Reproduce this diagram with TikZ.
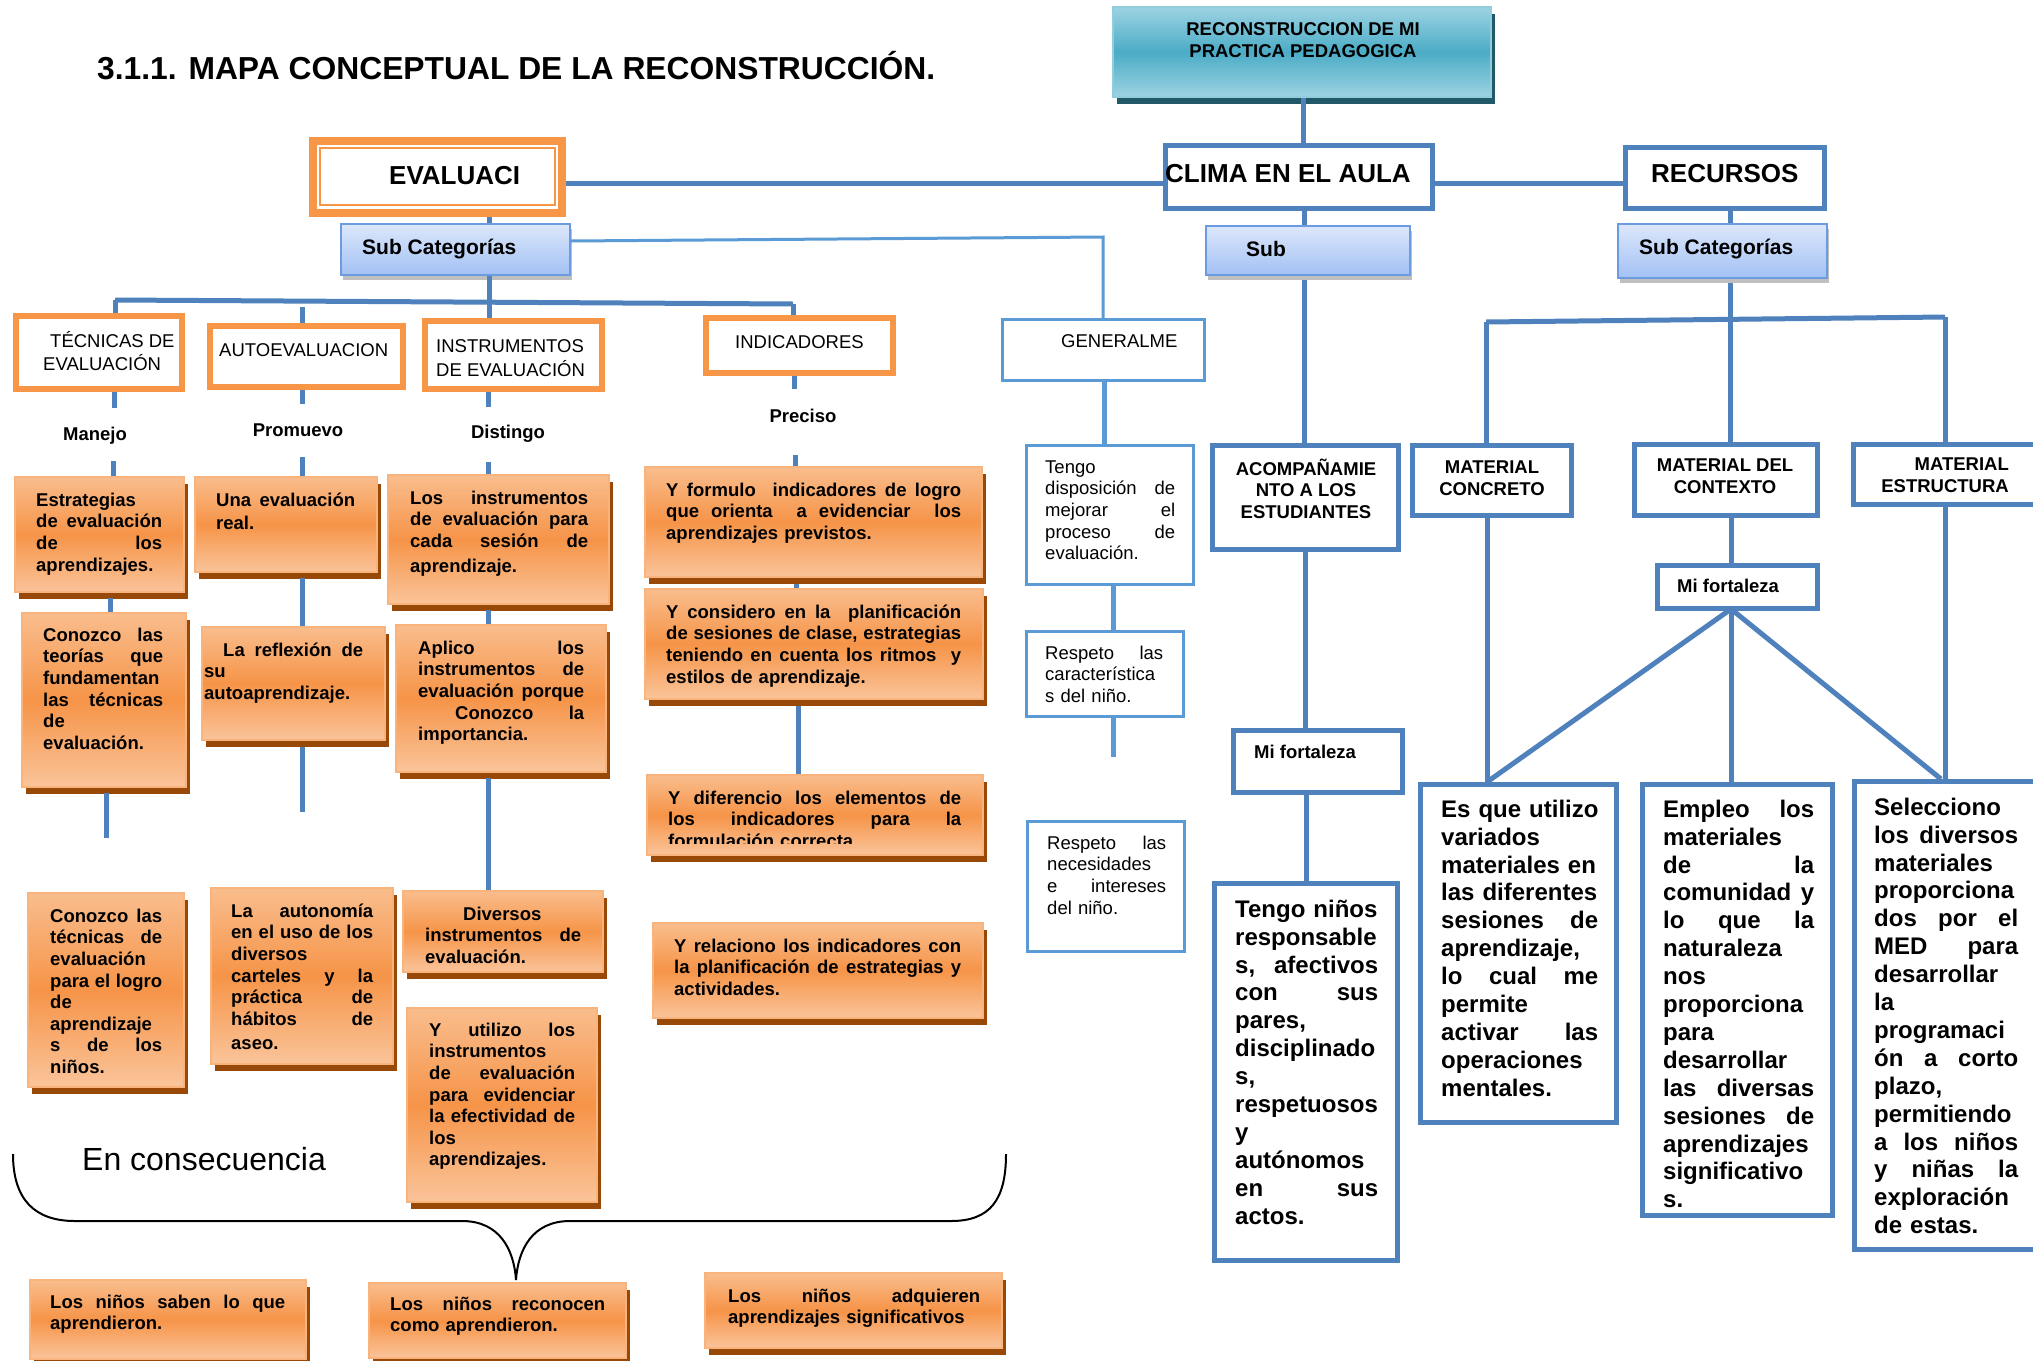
\documentclass[tikz,border=0pt]{standalone}
\usepackage{fontspec}
\setmainfont{Liberation Sans}
\usetikzlibrary{shadows}
\definecolor{cb}{HTML}{4F81BD}
\definecolor{lb}{HTML}{5B9BD5}
\definecolor{og}{HTML}{F79646}
\definecolor{oT}{HTML}{F9BD8D}
\definecolor{oM}{HTML}{F69448}
\definecolor{oB}{HTML}{FAC49A}
\definecolor{oE}{HTML}{F9B47E}
\definecolor{shb}{HTML}{984807}
\definecolor{sT}{HTML}{DCE7FB}
\definecolor{sB}{HTML}{A3C1F4}
\definecolor{sE}{HTML}{6C9BE0}
\definecolor{tT}{HTML}{9DD3E3}
\definecolor{tM}{HTML}{4BACC6}
\definecolor{tE}{HTML}{92CDDC}
\definecolor{tS}{HTML}{215968}
\newcommand\bx[6]{\pgfmathsetmacro\bxw{(#4)-(#2)}\pgfmathsetmacro\bxh{(#5)-(#3)}\node[#6, minimum width=\bxw pt, minimum height=\bxh pt, inner sep=0pt] (#1) at ({((#2)+(#4))/2},{((#3)+(#5))/2}) {};}
\newcommand\tn[6]{\def\jw{#4pt}\pgfmathsetmacro\twd{#4+40}\node[#5, text width=\twd pt, anchor=north west] (#1) at (#2,#3) {\strut #6};}
\newcommand\jus[1]{\leavevmode\hbox to \jw{\spaceskip=\fontdimen2\font plus 1fil\relax\xspaceskip=\fontdimen2\font plus 1fil\relax #1}}
\tikzset{
 conn/.style={draw=cb, line width=5pt},
 lconn/.style={draw=lb, line width=5pt},
 tconn/.style={draw=lb, line width=3pt},
 obox/.style={draw=oE, line width=1.5pt, top color=oT, bottom color=oB, middle color=oM, general shadow={fill=shb, shadow xshift=4pt, shadow yshift=-7pt}},
 ohead/.style={draw=og, line width=6pt, fill=white},
 bbox/.style={draw=cb, line width=5pt, fill=white},
 lbox/.style={draw=lb, line width=3pt, fill=white},
 sbox/.style={draw=sE, line width=2pt, top color=sT, bottom color=sB, general shadow={fill=black, opacity=.25, shadow xshift=2pt, shadow yshift=-5pt}},
 tbox/.style={draw=tE, line width=2pt, top color=tT, bottom color=tT, middle color=tM, general shadow={fill=tS, shadow xshift=4pt, shadow yshift=-7pt}},
 tb/.style={inner sep=0pt, align=left, font=\fontsize{18.5}{21.6}\selectfont\bfseries},
 tr/.style={inner sep=0pt, align=left, font=\fontsize{18.5}{21.6}\selectfont},
 tg/.style={inner sep=0pt, align=left, font=\fontsize{24}{27.9}\selectfont\bfseries},
 tbig/.style={inner sep=0pt, font=\fontsize{26}{30}\selectfont\bfseries},
 tsub/.style={inner sep=0pt, font=\fontsize{21}{25}\selectfont\bfseries},
}
\begin{document}
\begin{tikzpicture}[x=1pt,y=-1pt]
\useasboundingbox (0,0) rectangle (2033,1360);
\fill[white] (0,0) rectangle (2033,1360);

\coordinate (gcorner) at (1103,237);
\coordinate (barL) at (115,300);
\coordinate (barR) at (793,304);
\coordinate (bar2L) at (1486,322);
\coordinate (bar2R) at (1945,317);
\coordinate (fan) at (1731,609);

% ---------- boxes ----------
\bx{top}{1113}{7}{1491}{97}{tbox}
\bx{ev}{313}{141}{562}{213}{draw=og, line width=8pt, fill=white}
\bx{clima}{1165.5}{145.5}{1432.5}{208.5}{bbox}
\bx{recursos}{1625.5}{147.5}{1824.5}{208.5}{bbox}
\bx{evs}{341}{224}{570}{275}{sbox}
\bx{cls}{1206}{226}{1410}{275}{sbox}
\bx{res}{1618}{224}{1827}{278}{sbox}
\bx{gen}{1002.5}{319.5}{1204.5}{380.5}{lbox}
\bx{tec}{16}{316}{182}{389}{ohead}
\bx{auto}{210}{326}{403}{387}{ohead}
\bx{ins}{425}{321}{602}{389}{ohead}
\bx{ind}{706}{318}{893}{373}{ohead}
\bx{a1}{15}{477}{184}{592}{obox}
\bx{a2}{22}{613}{186}{787}{obox}
\bx{a3}{28}{893}{184}{1087}{obox}
\bx{b1}{195}{477}{377}{572}{obox}
\bx{b2}{202}{627}{385}{740}{obox}
\bx{b3}{211}{888}{393}{1064}{obox}
\bx{c1}{388}{475}{609}{604}{obox}
\bx{c2}{396}{625}{606}{772}{obox}
\bx{c3}{403}{891}{603}{972}{obox}
\bx{c4}{407}{1008}{597}{1202}{obox}
\bx{d1}{645}{467}{982}{577}{obox}
\bx{d2}{645}{589}{983}{699}{obox}
\bx{d3}{647}{775}{983}{855}{obox}
\bx{d4}{653}{923}{983}{1018}{obox}
\bx{e1}{30}{1280}{306}{1359}{obox}
\bx{e2}{369}{1283}{626}{1358}{obox}
\bx{e3}{705}{1273}{1002}{1348}{obox}
\bx{g1}{1026.5}{445.5}{1193.5}{584.5}{lbox}
\bx{g2}{1026.5}{631.5}{1183.5}{716.5}{lbox}
\bx{g3}{1027.5}{821.5}{1184.5}{951.5}{lbox}
\bx{acomp}{1212.5}{445.5}{1398.5}{549.5}{bbox}
\bx{mcon}{1412.5}{445.5}{1571.5}{515.5}{bbox}
\bx{mctx}{1634.5}{444.5}{1817.5}{515.5}{bbox}
\bx{mest}{1853.5}{444.5}{2045}{504.5}{bbox}
\bx{mf1}{1233.5}{730.5}{1402.5}{792.5}{bbox}
\bx{mf2}{1657.5}{565.5}{1817.5}{608.5}{bbox}
\bx{r1}{1214.5}{883.5}{1397.5}{1260.5}{bbox}
\bx{r2}{1420.5}{784.5}{1616.5}{1122.5}{bbox}
\bx{r3}{1642.5}{784.5}{1832.5}{1215.5}{bbox}
\bx{r4}{1854.5}{781.5}{2045}{1249.5}{bbox}

% ---------- connectors ----------
\draw[conn] (1303,0 |- top.south) -- (1303,0 |- clima.north);
\draw[conn] (ev.east |- 0,183) -- (clima.west |- 0,183);
\draw[conn] (clima.east |- 0,183) -- (recursos.west |- 0,183);
\draw[conn] (489,0 |- ev.south) -- (489,0 |- evs.north);
\draw[tconn] (evs.east |- 0,241) -- (gcorner) -- (gcorner |- gen.north);
\draw[conn] (489,0 |- evs.south) -- (489,0 |- ins.north);
\draw[conn] (barL) -- (barR);
\draw[conn] (barL) -- (barL |- tec.north);
\draw[conn] (barR) -- (barR |- ind.north);
\draw[conn] (302,307) -- (302,0 |- auto.north);
\draw[conn] (114,0 |- tec.south) -- ++(0,16);
\draw[conn] (113,0 |- a1.north) -- ++(0,-15);
\draw[conn] (302,0 |- auto.south) -- ++(0,14);
\draw[conn] (302,0 |- b1.north) -- ++(0,-19);
\draw[conn] (488,0 |- ins.south) -- ++(0,15);
\draw[conn] (488,0 |- c1.north) -- ++(0,-12);
\draw[conn] (794,0 |- ind.south) -- ++(0,13);
\draw[conn] (795,0 |- d1.north) -- ++(0,-11);
\draw[conn] (110,598) -- (110,0 |- a2.north);
\draw[conn] (106,793) -- ++(0,45);
\draw[conn] (302,578) -- (302,0 |- b2.north);
\draw[conn] (302,747) -- ++(0,65);
\draw[conn] (488,610) -- (488,0 |- c2.north);
\draw[conn] (488,778) -- (488,0 |- c3.north);
\draw[conn] (796,584) -- (796,0 |- d2.north);
\draw[conn] (798,706) -- (798,0 |- d3.north);
\draw[lconn] (1104,0 |- gen.south) -- (1104,0 |- g1.north);
\draw[lconn] (1113,0 |- g1.south) -- (1113,0 |- g2.north);
\draw[lconn] (1113,0 |- g2.south) -- ++(0,39);
\draw[conn] (1304,0 |- clima.south) -- (1304,0 |- cls.north);
\draw[conn] (1304,280) -- (1304,0 |- acomp.north);
\draw[conn] (1730,0 |- recursos.south) -- (1730,0 |- res.north);
\draw[conn] (1730,283) -- (1730,0 |- mctx.north);
\draw[conn] (bar2L) -- (bar2R);
\draw[conn] (bar2L) -- (bar2L |- mcon.north);
\draw[conn] (bar2R) -- (bar2R |- mest.north);
\draw[conn] (1305,0 |- acomp.south) -- (1305,0 |- mf1.north);
\draw[conn] (1306,0 |- mf1.south) -- (1306,0 |- r1.north);
\draw[conn] (1487,0 |- mcon.south) -- (1487,0 |- r2.north);
\draw[conn] (1731,0 |- mctx.south) -- (1731,0 |- mf2.north);
\draw[conn] (fan) -- (1487,0 |- r2.north);
\draw[conn] (fan) -- (1731,0 |- r3.north);
\draw[conn] (fan) -- (1941,0 |- r4.north);
\draw[conn] (1945,0 |- mest.south) -- (1945,0 |- r4.north);

\draw[draw=og, line width=2pt] (320,148) rectangle (555,205);

% ---------- texts ----------
\node[anchor=base west, inner sep=0pt, font=\fontsize{31.8}{36}\selectfont\bfseries] (title) at (97,79) {3.1.1. MAPA CONCEPTUAL DE LA RECONSTRUCCIÓN.};
\node[tb, align=center, anchor=north] (topt) at (1303,20.4) {\strut RECONSTRUCCION DE MI\\PRACTICA PEDAGOGICA};
\node[tbig, anchor=base west] (evt) at (389,184) {EVALUACI};
\node[tbig, anchor=base west] (climat) at (1165,182) {CLIMA EN EL AULA};
\node[tbig, anchor=base west] (recut) at (1651,182) {RECURSOS};
\node[tsub, anchor=base west] (evst) at (362,254.5) {Sub Categorías};
\node[tsub, anchor=base west] (clst) at (1246,256) {Sub};
\node[tsub, anchor=base west] (rest) at (1639,254.5) {Sub Categorías};
\node[tr, anchor=base west] (gent) at (1061,347) {GENERALME};

\node[tr, anchor=north west] (tect) at (43,330.8) {\strut\hspace*{7pt}TÉCNICAS DE\\EVALUACIÓN};
\node[tr, anchor=base west] (autot) at (219,356.6) {AUTOEVALUACION};
\node[tr, anchor=north west] (inst) at (436,337.4) {\strut INSTRUMENTOS\\DE EVALUACIÓN};
\node[tr, anchor=base west] (indt) at (735,348.6) {INDICADORES};

\node[tb, anchor=base] (manejo) at (95,440) {Manejo};
\node[tb, anchor=base] (promuevo) at (298,436) {Promuevo};
\node[tb, anchor=base] (distingo) at (508,438) {Distingo};
\node[tb, anchor=base] (preciso) at (803,422) {Preciso};

\tn{a1t}{36}{491}{126}{tb}{Estrategias\\\jus{de evaluación}\\\jus{de los}\\aprendizajes.}
\tn{a2t}{43}{626}{120}{tb}{\jus{Conozco las}\\\jus{teorías que}\\fundamentan\\\jus{las técnicas}\\de\\evaluación.}
\tn{a3t}{50}{907}{112}{tb}{\jus{Conozco las}\\\jus{técnicas de}\\evaluación\\\jus{para el logro}\\de\\aprendizaje\\\jus{s de los}\\niños.}
\tn{b1t}{216}{491}{139}{tb}{\jus{Una evaluación}\\[1.5pt]real.}
\tn{b2t}{204}{641}{159}{tb}{\jus{\hspace*{19pt}La reflexión de}\\su\\autoaprendizaje.}
\tn{b3t}{231}{902}{142}{tb}{\jus{La autonomía}\\\jus{en el uso de los}\\diversos\\\jus{carteles y la}\\\jus{práctica de}\\\jus{hábitos de}\\[3pt]aseo.}
\tn{c1t}{410}{489}{178}{tb}{\jus{Los instrumentos}\\\jus{de evaluación para}\\\jus{cada sesión de}\\[3pt]aprendizaje.}
\tn{c2t}{418}{639}{166}{tb}{\jus{Aplico los}\\\jus{instrumentos de}\\\jus{evaluación porque}\\\jus{\hspace*{37pt}Conozco la}\\importancia.}
\tn{c3t}{425}{905}{156}{tb}{\hspace*{38pt}Diversos\\\jus{instrumentos de}\\evaluación.}
\tn{c4t}{429}{1021}{146}{tb}{\jus{Y utilizo los}\\instrumentos\\\jus{de evaluación}\\\jus{para evidenciar}\\\jus{la efectividad de}\\los\\aprendizajes.}
\tn{d1t}{666}{481}{295}{tb}{\jus{Y formulo \ indicadores de logro}\\\jus{que orienta \ a evidenciar \ los}\\aprendizajes previstos.}
\tn{d2t}{666}{603}{295}{tb}{\jus{Y considero en la \ planificación}\\\jus{de sesiones de clase, estrategias}\\\jus{teniendo en cuenta los ritmos \ y}\\estilos de aprendizaje.}
\begin{scope}
\clip (640,770) rectangle (990,843);
\tn{d3t}{668}{789}{293}{tb}{\jus{Y diferencio los elementos de}\\\jus{los indicadores para la}\\formulación correcta.}
\end{scope}
\tn{d4t}{674}{937}{287}{tb}{\jus{Y relaciono los indicadores con}\\\jus{la planificación de estrategias y}\\actividades.}
\tn{e1t}{50}{1293}{235}{tb}{\jus{Los niños saben lo que}\\aprendieron.}
\tn{e2t}{390}{1295}{215}{tb}{\jus{Los niños reconocen}\\como aprendieron.}
\tn{e3t}{728}{1287}{252}{tb}{\jus{Los niños adquieren}\\aprendizajes significativos}

\tn{g1t}{1045}{458}{130}{tr}{Tengo\\\jus{disposición de}\\\jus{mejorar el}\\\jus{proceso de}\\evaluación.}
\tn{g2t}{1045}{644}{118}{tr}{\jus{Respeto las}\\característica\\s del niño.}
\tn{g3t}{1047}{834}{119}{tr}{\jus{Respeto las}\\necesidades\\\jus{e intereses}\\del niño.}

\node[tb, align=center, anchor=north] (acompt) at (1306,458.4) {\strut ACOMPAÑAMIE\\NTO A LOS\\ESTUDIANTES};
\node[tb, align=center, anchor=north] (mcont) at (1492,458.4) {\strut MATERIAL\\CONCRETO};
\node[tb, align=center, anchor=north] (mctxt) at (1725,456.4) {\strut MATERIAL DEL\\CONTEXTO};
\node[tb, align=right, anchor=north east] (mestt) at (2009,455.4) {\strut MATERIAL\\ESTRUCTURA};
\node[tb, anchor=base west] (mf1t) at (1254,758) {Mi fortaleza};
\node[tb, anchor=base west] (mf2t) at (1677,592.6) {Mi fortaleza};

\tn{r1t}{1235}{897.5}{143}{tg}{Tengo niños\\responsable\\\jus{s, afectivos}\\\jus{con sus}\\pares,\\disciplinado\\s,\\respetuosos\\y\\autónomos\\\jus{en sus}\\actos.}
\tn{r2t}{1441}{797.5}{157}{tg}{Es que utilizo\\variados\\materiales en\\las diferentes\\\jus{sesiones de}\\aprendizaje,\\\jus{lo cual me}\\permite\\\jus{activar las}\\operaciones\\mentales.}
\tn{r3t}{1663}{797.5}{151}{tg}{\jus{Empleo los}\\materiales\\\jus{de la}\\\jus{comunidad y}\\\jus{lo que la}\\naturaleza\\nos\\proporciona\\para\\desarrollar\\\jus{las diversas}\\\jus{sesiones de}\\aprendizajes\\significativo\\s.}
\tn{r4t}{1874}{795.5}{144}{tg}{Selecciono\\\jus{los diversos}\\materiales\\proporciona\\\jus{dos por el}\\\jus{MED para}\\desarrollar\\la\\programaci\\\jus{ón a corto}\\plazo,\\permitiendo\\\jus{a los niños}\\\jus{y niñas la}\\exploración\\de estas.}

\node[anchor=base west, inner sep=0pt, font=\fontsize{32}{36}\selectfont] (encons) at (82,1170) {En consecuencia};
\draw[line width=2pt] (13,1154) .. controls (13,1200) and (35,1221) .. (75,1221) -- (462,1221) .. controls (500,1221) and (514,1250) .. (516,1280) .. controls (518,1250) and (532,1221) .. (570,1221) -- (951,1221) .. controls (990,1221) and (1006,1200) .. (1006,1154);
\end{tikzpicture}
\end{document}
